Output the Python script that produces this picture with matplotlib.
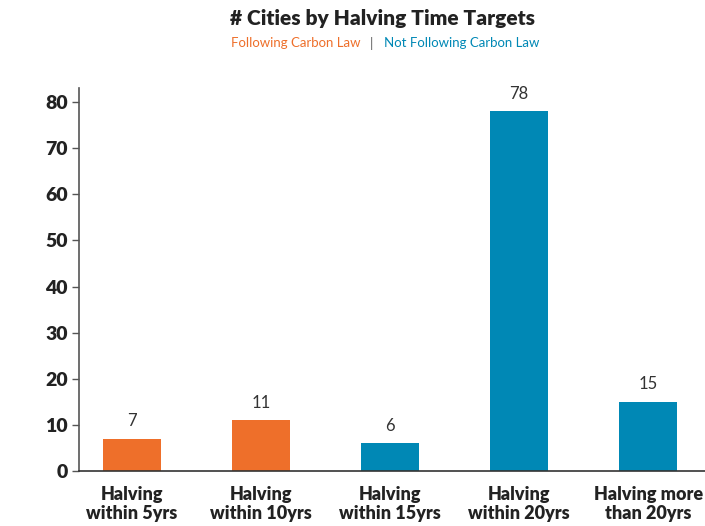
import matplotlib.pyplot as plt

categories = ["Halving\nwithin 5yrs", "Halving\nwithin 10yrs", "Halving\nwithin 15yrs",
              "Halving\nwithin 20yrs", "Halving more\nthan 20yrs"]
values = [7, 11, 6, 78, 15]
following = [True, True, False, False, False]

ORANGE = "#EE6F2A"
BLUE = "#0088B5"
FONT = "Lato"

plt.rcParams['font.family'] = [FONT, 'DejaVu Sans']

fig = plt.figure(figsize=(7.05, 5.26), dpi=100)
ax = fig.add_axes([0.112, 0.1046, 0.888, 0.7286])

colors = [ORANGE if f else BLUE for f in following]
x = list(range(len(values)))
bars = ax.bar(x, values, width=0.45, color=colors)
for xi, v in zip(x, values):
    ax.annotate(str(v), (xi, v), xytext=(0, 7), textcoords="offset points",
                ha="center", va="bottom", fontsize=12, color="#333333")

ax.set_xlim(-0.41, 4.44)
ax.set_ylim(0, 83.1)
ax.set_yticks(range(0, 81, 10))
ax.set_xticks(x)
ax.set_xticklabels(categories, fontsize=13, fontweight="heavy", color="#222222", linespacing=1.15)
for lbl in ax.get_yticklabels():
    lbl.set_fontsize(14)
    lbl.set_fontweight("heavy")
    lbl.set_color("#222222")
ax.tick_params(axis="x", length=0, pad=11)
ax.tick_params(axis="y", length=5, width=1, color="#555555", pad=3)
for s in ["top", "right"]:
    ax.spines[s].set_visible(False)
ax.spines["left"].set_color("#555555")
ax.spines["bottom"].set_color("#333333")
ax.spines["left"].set_linewidth(1.2)
ax.spines["bottom"].set_linewidth(1.2)

fig.text(0.542, 0.964, "# Cities by Halving Time Targets", ha="center", va="center",
         fontsize=15, fontweight="heavy", color="#222222")
fig.text(0.511, 0.918, "Following Carbon Law", ha="right", va="center", fontsize=9.5, color=ORANGE)
fig.text(0.527, 0.918, "|", ha="center", va="center", fontsize=9.5, color="#555555")
fig.text(0.545, 0.918, "Not Following Carbon Law", ha="left", va="center", fontsize=9.5, color=BLUE)

fig.savefig("out.png", dpi=100)
